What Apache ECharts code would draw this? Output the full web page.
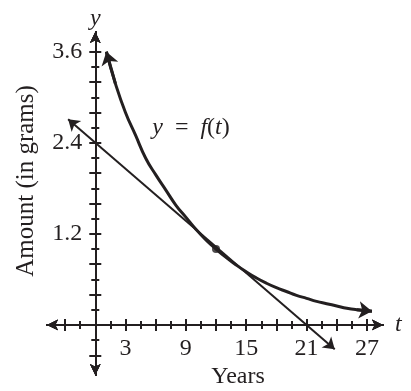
<!DOCTYPE html>
<html>
<head>
<meta charset="utf-8">
<script src="https://cdn.jsdelivr.net/npm/echarts@6/dist/echarts.min.js"></script>
<style>
  html, body { margin: 0; padding: 0; background: #fff; }
  #chart { width: 411px; height: 391px; }
</style>
</head>
<body>
<div id="chart"></div>
<script>
// values
var curveT = [1.1, 2, 3, 4, 5, 6, 7, 8, 9, 10, 11, 12, 13, 14, 15, 16, 17, 18, 19, 20, 21, 22, 23, 24, 25, 26, 27.5];
var curveY = [3.6, 3.18, 2.8, 2.5, 2.2, 1.98, 1.78, 1.58, 1.42, 1.26, 1.12, 1.0, 0.89, 0.79, 0.7, 0.62, 0.55, 0.49, 0.44, 0.39, 0.35, 0.31, 0.28, 0.25, 0.22, 0.2, 0.18];
var tangentT = [-2.7, 0, 21, 23.8];
var tangentY = [2.71, 2.4, 0, -0.32];
var pointT = 12, pointY = 1.0;

var xLabels = [3, 9, 15, 21, 27];
var yLabels = [1.2, 2.4, 3.6];
var xMajor = [-3, 3, 6, 9, 12, 15, 18, 21, 24, 27];
var xMinor = [-1.5, 1.5, 4.5, 7.5, 10.5, 13.5, 16.5, 19.5, 22.5, 25.5];
var yMajor = [-0.4, 0.4, 0.8, 1.2, 1.6, 2.0, 2.4, 2.8, 3.2, 3.6];
var yMinor = [-0.2, 0.2, 0.6, 1.0, 1.4, 1.8, 2.2, 2.6, 3.0, 3.4];

var xRange = [-4.8, 28.6];
var yRange = [-0.66, 3.86];

var ink = '#231f20';
var serif = 'Liberation Serif';

var gridBox = { left: 47, top: 32, width: 336, height: 343 };
// shift the axes from the grid edges onto the zero lines
var xOffset = -gridBox.height * (0 - yRange[0]) / (yRange[1] - yRange[0]);
var yOffset = -gridBox.width * (0 - xRange[0]) / (xRange[1] - xRange[0]);

var myChart = echarts.init(document.getElementById('chart'), null, { renderer: 'canvas' });

// one axis per tick set: ticks cross the line, so inside + outside copies
function makeAxis(dim, ticks, len, inside, labels, name) {
  var isX = dim == 'x';
  var ax = {
    type: 'value',
    position: isX ? 'bottom' : 'left',
    offset: isX ? xOffset : yOffset,
    min: isX ? xRange[0] : yRange[0],
    max: isX ? xRange[1] : yRange[1],
    splitLine: { show: false },
    axisLine: {
      onZero: false,
      symbol: ['arrow', 'arrow'],
      symbolSize: [8, 11],
      lineStyle: { color: ink, width: 2 }
    },
    axisTick: {
      show: true,
      inside: inside,
      length: len,
      customValues: ticks,
      lineStyle: { color: ink, width: 2 }
    },
    axisLabel: { show: false }
  };
  if (labels) {
    ax.axisLabel = {
      show: true,
      customValues: labels,
      margin: isX ? 12 : 13,
      fontFamily: serif,
      fontSize: 24,
      color: ink,
      formatter: function (v) { return isX ? String(v) : v.toFixed(1); }
    };
  }
  if (name) {
    ax.name = name;
    ax.nameLocation = 'end';
    ax.nameGap = isX ? 12 : 1;
    ax.nameTextStyle = { fontFamily: serif, fontStyle: 'italic', fontSize: 24, color: ink };
  }
  return ax;
}

var curveData = curveT.map(function (t, i) { return [t, curveY[i]]; });
var n = curveData.length;

var option = {
  animation: false,
  grid: {
    left: gridBox.left, top: gridBox.top, width: gridBox.width, height: gridBox.height,
    containLabel: false, outerBoundsMode: 'none'
  },
  xAxis: [
    makeAxis('x', xMajor, 6, true, xLabels, 't'),
    makeAxis('x', xMajor, 6, false),
    makeAxis('x', xMinor, 4, true),
    makeAxis('x', xMinor, 4, false)
  ],
  yAxis: [
    makeAxis('y', yMajor, 6, true, yLabels, 'y'),
    makeAxis('y', yMajor, 6, false),
    makeAxis('y', yMinor, 4, true),
    makeAxis('y', yMinor, 4, false)
  ],
  series: [
    {
      type: 'line',
      smooth: true,
      showSymbol: false,
      lineStyle: { color: ink, width: 3 },
      data: curveData,
      z: 5
    },
    {
      // arrowheads at both ends of the curve
      type: 'lines',
      coordinateSystem: 'cartesian2d',
      symbol: ['none', 'arrow'],
      symbolSize: 13,
      lineStyle: { color: ink, width: 3, opacity: 1 },
      data: [
        { coords: [curveData[1], curveData[0]] },
        { coords: [curveData[n - 2], curveData[n - 1]] }
      ],
      z: 5
    },
    {
      type: 'lines',
      coordinateSystem: 'cartesian2d',
      symbol: ['arrow', 'arrow'],
      symbolSize: 11,
      lineStyle: { color: ink, width: 2, opacity: 1 },
      data: [{ coords: [[tangentT[0], tangentY[0]], [tangentT[tangentT.length - 1], tangentY[tangentY.length - 1]]] }],
      z: 4
    },
    {
      type: 'scatter',
      symbolSize: 8,
      itemStyle: { color: ink },
      data: [[pointT, pointY]],
      z: 6
    }
  ],
  graphic: [
    {
      type: 'text',
      x: 26, y: 181,
      rotation: Math.PI / 2,
      style: {
        text: 'Amount (in grams)',
        fontFamily: serif, fontSize: 25, fill: ink,
        align: 'center', verticalAlign: 'middle'
      }
    },
    {
      type: 'text',
      x: 238, y: 377,
      style: {
        text: 'Years',
        fontFamily: serif, fontSize: 24, fill: ink,
        align: 'center', verticalAlign: 'middle'
      }
    },
    {
      type: 'text',
      x: 191, y: 128,
      style: {
        text: '{i|y}\u2002=\u2002{i|f}({i|t})',
        fontFamily: serif, fontSize: 24, fill: ink,
        align: 'center', verticalAlign: 'middle',
        rich: { i: { fontFamily: serif, fontStyle: 'italic', fontSize: 24, color: ink } }
      }
    }
  ]
};

myChart.setOption(option);
</script>
</body>
</html>
